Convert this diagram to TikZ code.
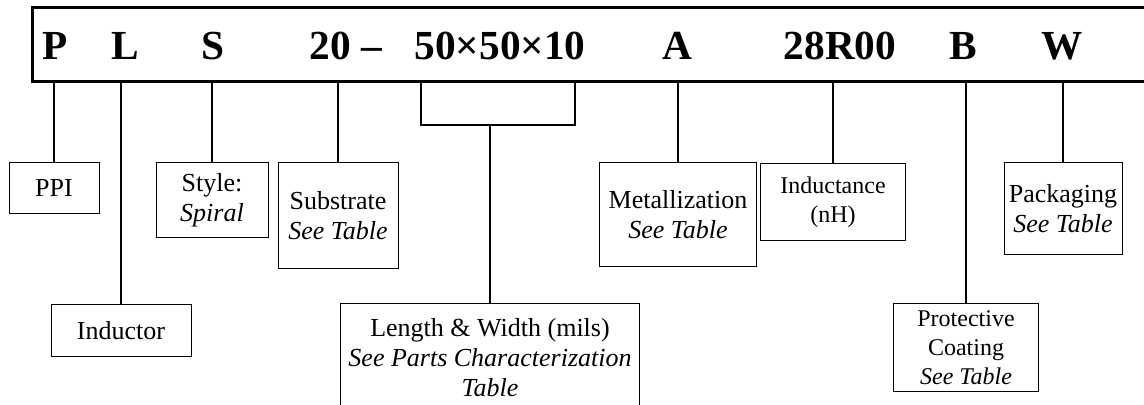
\documentclass[tikz,border=0pt]{standalone}
\usepackage{fontspec}
\setmainfont{Liberation Serif}
\usetikzlibrary{positioning}

\begin{document}
\begin{tikzpicture}[x = 0.75pt, y = -0.75pt,
		code/.style = { font = \fontsize{31}{36}\selectfont\bfseries, anchor = base, inner sep = 0pt },
		field/.style = { draw, line width = 0.6pt, anchor = north, align = center, inner sep = 2pt, font = \fontsize{19.5}{22.5}\selectfont },
		small/.style = { font = \fontsize{18}{21.75}\selectfont },
		lead/.style = { line width = 1.5pt }]
		\useasboundingbox (0, 0) rectangle (1144, 404);

		% part number frame, it runs off the right edge
		\coordinate (barNW) at (32, 7);
		\coordinate (barSE) at (1150, 81);
		\draw [line width = 2.25pt] (barNW) rectangle (barSE);

		\node [code] (cP)   at (55, 59)   {P};
		\node [code] (cL)   at (125, 59)  {L};
		\node [code] (cS)   at (213, 59)  {S};
		\node [code] (cSub) at (346, 59)  {20 –};
		\node [code] (cLW)  at (500, 59)  {50×50×10};
		\node [code] (cA)   at (677, 59)  {A};
		\node [code] (cInd) at (840, 59)  {28R00};
		\node [code] (cB)   at (963, 59)  {B};
		\node [code] (cW)   at (1062, 59) {W};

		\node [field, minimum width = 67.5pt, minimum height = 38.25pt]  (ppi)  at (54, 162)   {PPI};
		\node [field, minimum width = 105pt, minimum height = 39pt]      (ind)  at (121, 304)  {Inductor};
		\node [field, minimum width = 84pt, minimum height = 56.25pt]    (sty)  at (212, 162)  {Style:\\ \textit{Spiral}};
		\node [field, minimum width = 90pt, minimum height = 79.5pt]     (sub)  at (338, 162)  {Substrate\\ \textit{See Table}};
		\node [field, minimum width = 224.25pt, minimum height = 81.75pt] (len) at (490, 303)  {Length \& Width (mils)\\ \textit{See Parts Characterization}\\ \textit{Table}};
		\node [field, minimum width = 117.75pt, minimum height = 78pt]   (met)  at (678, 162)  {Metallization\\ \textit{See Table}};
		\node [field, small, minimum width = 108.75pt, minimum height = 57.75pt] (henry) at (833, 163) {Inductance\\ (nH)};
		\node [field, small, minimum width = 108.75pt, minimum height = 66pt]    (coat)  at (966, 303) {Protective\\ Coating\\ \textit{See Table}};
		\node [field, minimum width = 88.5pt, minimum height = 69pt]     (pack) at (1063, 162) {Packaging\\ \textit{See Table}};

		% length and width share one bracket
		\coordinate (brL) at (421, 125);
		\coordinate (brR) at (575, 125);

		\draw [lead] (ppi.north |- barSE) -- (ppi.north);
		\draw [lead] (ind.north |- barSE) -- (ind.north);
		\draw [lead] (sty.north |- barSE) -- (sty.north);
		\draw [lead] (sub.north |- barSE) -- (sub.north);
		\draw [lead] (brL |- barSE) -- (brL) -- (brR) -- (brR |- barSE);
		\draw [lead] (len.north |- brL) -- (len.north);
		\draw [lead] (met.north |- barSE) -- (met.north);
		\draw [lead] (henry.north |- barSE) -- (henry.north);
		\draw [lead] (coat.north |- barSE) -- (coat.north);
		\draw [lead] (pack.north |- barSE) -- (pack.north);
	\end{tikzpicture}
\end{document}
